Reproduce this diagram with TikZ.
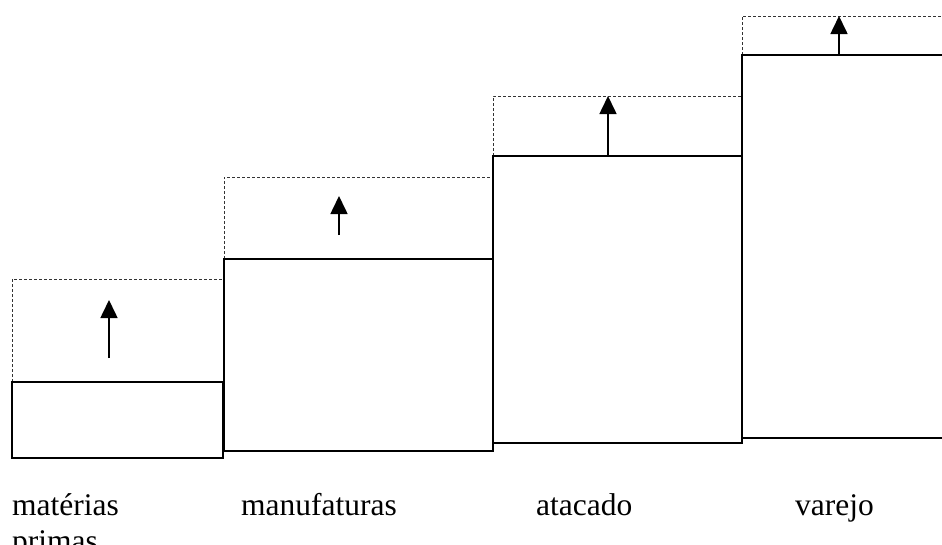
\documentclass[tikz,border=0pt]{standalone}
\usepackage{fontspec}
\setmainfont{Liberation Serif}
\usetikzlibrary{arrows.meta}
\tikzset{
  stage/.style={draw=black, line width=2.6pt},
  rise/.style={draw=black!80, line width=1pt, dash pattern=on 3pt off 2pt},
  gain/.style={draw=black, line width=1.6pt, -{Triangle[length=18pt,width=17pt]}},
  caption/.style={anchor=base west, inner sep=0pt, align=left,
    font=\fontsize{31.5}{36}\selectfont}
}
\begin{document}
\begin{tikzpicture}[x=1pt,y=-1pt]
  \useasboundingbox (0,0) rectangle (942,544);
  \clip (0,0) rectangle (942,544);

  % dashed margins above each stage
  \draw[rise] (12,382) -- (12,279) -- (223,279);
  \draw[rise] (224,259) -- (224,177) -- (493,177);
  \draw[rise] (493,156) -- (493,96) -- (742,96);
  \draw[rise] (742,55) -- (742,16) -- (960,16);

  % stages of the chain
  \draw[stage] (12,382) rectangle (223,458);
  \draw[stage] (224,259) rectangle (493,451);
  \draw[stage] (493,156) rectangle (742,443);
  \draw[stage] (742,55) rectangle (970,438);

  % value added arrows
  \coordinate (a1s) at (109,358); \coordinate (a1e) at (109,300);
  \coordinate (a2s) at (339,235); \coordinate (a2e) at (339,196);
  \coordinate (a3s) at (608,156); \coordinate (a3e) at (608,96);
  \coordinate (a4s) at (839,55);  \coordinate (a4e) at (839,16);
  \draw[gain] (a1s) -- (a1e);
  \draw[gain] (a2s) -- (a2e);
  \draw[gain] (a3s) -- (a3e);
  \draw[gain] (a4s) -- (a4e);

  % labels (base of a two-line node sits on its last line)
  \node[caption] (l1) at (12,551) {matérias\\primas};
  \node[caption] (l2) at (241,515) {manufaturas};
  \node[caption] (l3) at (536,515) {atacado};
  \node[caption] (l4) at (795,515) {varejo};
\end{tikzpicture}
\end{document}
